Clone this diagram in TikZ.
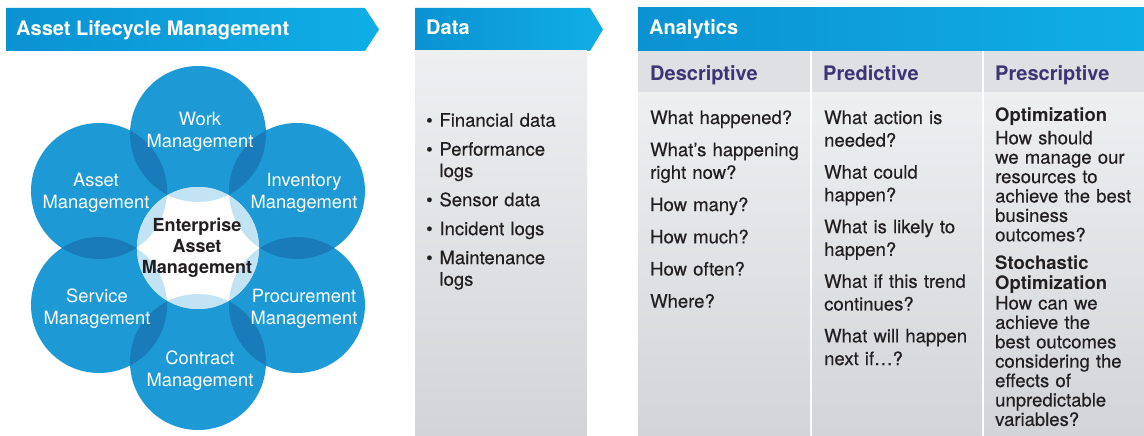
\documentclass[tikz,border=0pt]{standalone}
\usepackage{fontspec}
\setmainfont{TeX Gyre Heros}
\newfontfamily\medfont{TeX Gyre Heros}[FakeBold=0.35]
\definecolor{hdrL}{HTML}{0B92D2}
\definecolor{hdrR}{HTML}{0FAEE6}
\definecolor{circblue}{HTML}{1D9AD6}
\definecolor{circdark}{HTML}{1A7BBA}
\definecolor{ringblue}{HTML}{C2E3F4}
\definecolor{subpurple}{HTML}{3B3576}
\definecolor{bodyblack}{HTML}{231F20}
\definecolor{greyTop}{HTML}{EEEFF1}
\definecolor{greyBot}{HTML}{D2D4D7}
\definecolor{greyHead}{HTML}{DEE0E3}
\newcommand{\dbul}{\makebox[13.3pt][l]{•}}
\newcommand{\dind}{\hspace*{13.3pt}}
\begin{document}
\begin{tikzpicture}[x=1pt,y=-1pt,
  hdrtext/.style={text=white,font=\fontsize{20}{24}\selectfont\bfseries,anchor=base west,inner sep=0pt},
  subhdr/.style={text=subpurple,font=\fontsize{20}{24}\selectfont\bfseries,anchor=base west,inner sep=0pt},
  bodytext/.style={text=bodyblack,anchor=base west,inner sep=0pt,align=left,text width=#1},
  circlabel/.style={text=white,font=\fontsize{18.3}{22}\selectfont,anchor=base,inner sep=0pt,align=center,text width=140pt},
  centerlabel/.style={text=bodyblack,font=\fontsize{18}{21}\selectfont\bfseries,anchor=base,inner sep=0pt,align=center,text width=130pt},
  greycell/.style={top color=greyTop,bottom color=greyBot},
]
\useasboundingbox[fill=white] (0,0) rectangle (1144,436);

% ---------- header banners ----------
\shade[left color=hdrL,right color=hdrR]
  (6,8) -- (365,8) -- (379,29.5) -- (365,51) -- (6,51) -- cycle;
\node[hdrtext] (almtitle) at (16,36) {Asset Lifecycle Management};

\shade[left color=hdrL,right color=hdrR]
  (415,8) -- (590,8) -- (603,29.5) -- (590,51) -- (415,51) -- cycle;
\node[hdrtext] (datatitle) at (426,35) {Data};

\shade[left color=hdrL,right color=hdrR] (638,8) rectangle (1144,51);
\node[hdrtext] (analtitle) at (649,35) {Analytics};

% ---------- data column ----------
\shade[greycell] (415,51) rectangle (587,436);
\node[bodytext=165pt,font=\medfont\fontsize{18.5}{21.5}\selectfont] (datalist) at (426,126.7) {%
  \dbul Financial data\\[7.5pt]
  \dbul Performance\\
  \dind logs\\[7.5pt]
  \dbul Sensor data\\[7.5pt]
  \dbul Incident logs\\[7.5pt]
  \dbul Maintenance\\
  \dind logs};

% ---------- analytics columns ----------
\foreach \xa/\xb in {638/810, 812/982, 984/1144}{
  \fill[greyHead] (\xa,51) rectangle (\xb,92);
  \shade[greycell] (\xa,93) rectangle (\xb,436);
}
\node[subhdr] (desc) at (650,81) {Descriptive};
\node[subhdr] (pred) at (823,81) {Predictive};
\node[subhdr] (presc) at (995,81) {Prescriptive};

\node[bodytext=165pt,font=\medfont\fontsize{18.5}{22.7}\selectfont] (desctext) at (650,124) {%
  What happened?\\[9.5pt]
  What’s happening\\ right now?\\[9.5pt]
  How many?\\[9.5pt]
  How much?\\[9.5pt]
  How often?\\[9.5pt]
  Where?};

\node[bodytext=160pt,font=\medfont\fontsize{18.5}{22.7}\selectfont] (predtext) at (824,124) {%
  What action is\\ needed?\\[9.2pt]
  What could\\ happen?\\[9.2pt]
  What is likely to\\ happen?\\[9.2pt]
  What if this trend\\ continues?\\[9.2pt]
  What will happen\\ next if…?};

\node[bodytext=150pt,font=\medfont\fontsize{18.5}{19.4}\selectfont] (presctext) at (995,121.7) {%
  {\normalfont\bfseries Optimization}\\[3.2pt]
  How should\\ we manage our\\ resources to\\ achieve the best\\ business\\ outcomes?\\[9.2pt]
  {\normalfont\bfseries Stochastic}\\ {\normalfont\bfseries Optimization}\\[0.8pt]
  How can we\\ achieve the\\ best outcomes\\ considering the\\ effects of\\ unpredictable\\ variables?};

% ---------- lifecycle flower ----------
\coordinate (hub) at (198,248);
\coordinate (cwork)  at (198,134);
\coordinate (cinv)   at (297,191);
\coordinate (cproc)  at (297,305);
\coordinate (ccontr) at (198,362);
\coordinate (cserv)  at (99,305);
\coordinate (casset) at (99,191);

\foreach \n in {cwork,cinv,cproc,ccontr,cserv,casset}
  \fill[circblue] (\n) circle[radius=68];

% darker lenses where neighbouring petals overlap
\foreach \a/\b in {cwork/cinv,cinv/cproc,cproc/ccontr,ccontr/cserv,cserv/casset,casset/cwork}{
  \begin{scope}
    \clip (\a) circle[radius=68];
    \fill[circdark] (\b) circle[radius=68];
  \end{scope}
}

% hub: white star inside a pale ring
\fill[white] (hub) circle[radius=61];
\begin{scope}
  \clip (hub) circle[radius=61];
  \foreach \n in {cwork,cinv,cproc,ccontr,cserv,casset}
    \fill[ringblue] (\n) circle[radius=68];
\end{scope}

\node[circlabel] (lwork)  at (200,125) {Work\\ Management};
\node[circlabel] (linv)   at (304,186) {Inventory\\ Management};
\node[circlabel] (lproc)  at (304,302) {Procurement\\ Management};
\node[circlabel] (lcontr) at (200,364) {Contract\\ Management};
\node[circlabel] (lserv)  at (97,302)  {Service\\ Management};
\node[circlabel] (lasset) at (96,186)  {Asset\\ Management};
\node[centerlabel] (lhub) at (197,231.7) {Enterprise\\ Asset\\ Management};
\end{tikzpicture}
\end{document}
